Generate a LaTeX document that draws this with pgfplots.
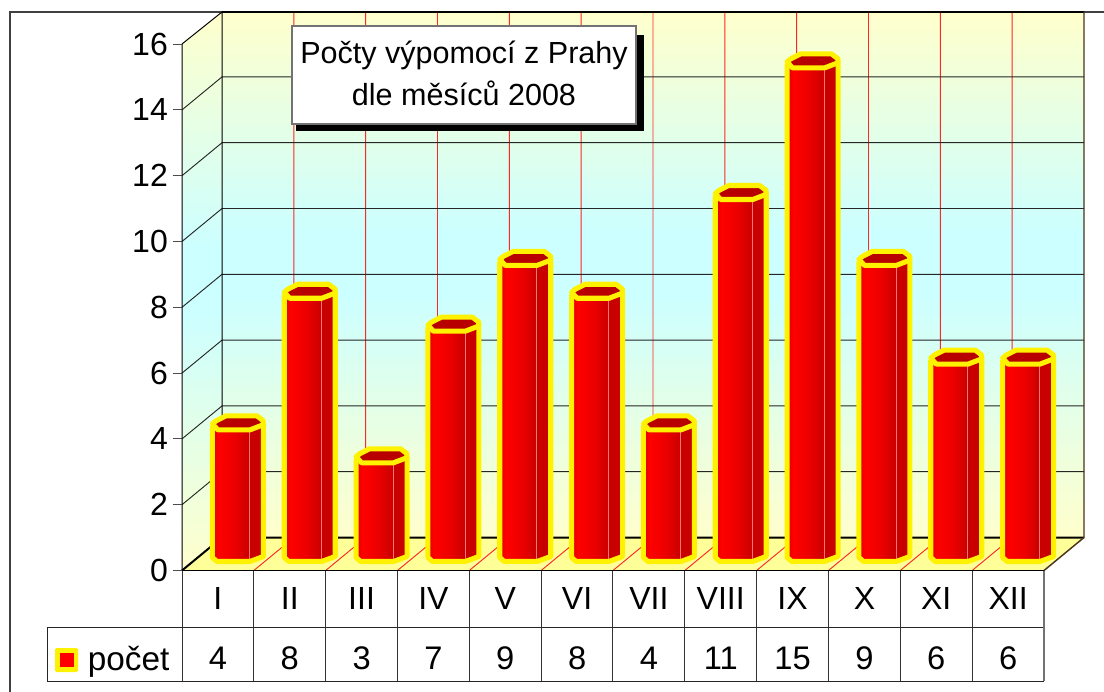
\documentclass[border=0pt]{standalone}
\usepackage{pgfplots}
\pgfplotsset{compat=1.18}
\usepackage{pgfplotstable}
\usepackage{fontspec}
\setmainfont{Liberation Sans}
\definecolor{wallY}{HTML}{FFFFCC}
\definecolor{wallC}{HTML}{CCFFFF}
\definecolor{floorY}{HTML}{FFFF99}
\definecolor{sideR}{HTML}{C80000}
\definecolor{topR}{HTML}{B80000}
\pgfdeclareverticalshading{wall}{100bp}{color(0bp)=(wallY);color(25bp)=(wallY);color(48bp)=(wallC);color(54bp)=(wallC);color(75bp)=(wallY);color(100bp)=(wallY)}
\pgfdeclarehorizontalshading{face}{100bp}{color(0bp)=(red!85!black);color(25bp)=(red!85!black);color(33bp)=(red);color(55bp)=(red!92!black);color(75bp)=(sideR);color(100bp)=(sideR)}
\pgfplotstableread{
x v name
0.5 4 I
1.5 8 II
2.5 3 III
3.5 7 IV
4.5 9 V
5.5 8 VI
6.5 4 VII
7.5 11 VIII
8.5 15 IX
9.5 9 X
10.5 6 XI
11.5 6 XII
}\chartdata
\begin{document}
\begin{tikzpicture}
\useasboundingbox (0,0) rectangle (828pt,-519pt);
\begin{scope}[x=0.75pt,y=-0.75pt]
% outer frame
\draw[black!75,line width=1.1pt] (10,692) -- (10,12) -- (1104,12);
% walls and floor
\shade[shading=wall] (222,12) rectangle (1084,537.5);
\shade[shading=wall] (182,44) -- (222,12) -- (222,537.5) -- (182,570.5) -- cycle;
\fill[floorY] (182,570.5) -- (222,537.5) -- (1084,537.5) -- (1044,570.5) -- cycle;
% grid on the walls
\foreach \k in {1,...,11}{
  \pgfmathsetmacro\xa{222+71.83*\k}
  \pgfmathsetmacro\xb{182+71.83*\k}
  \draw[red!85!white,line width=0.7pt] (\xa,12) -- (\xa,537.5) -- (\xb,570.5);
}
\foreach \v in {2,4,...,14}{
  \pgfmathsetmacro\ya{537.5-32.9*\v}
  \pgfmathsetmacro\yb{570.5-32.9*\v}
  \draw[black!85,line width=0.7pt] (182,\yb) -- (222,\ya) -- (1084,\ya);
}
\draw[black,line width=0.75pt] (182,570.5) -- (182,44) -- (222,12) -- (222,537.5);
\draw[black,line width=1.5pt] (182,570.5) -- (222,537.5) -- (1084,537.5);
\draw[black,line width=1.5pt] (222,12) -- (1084,12);
\draw[black!75,line width=1.1pt] (1084,12) -- (1104,12);
\draw[black!60!brown,line width=1.1pt] (1084,12) -- (1084,537.5) -- (1044,570.5);
% data table
\draw[black,line width=0.75pt] (182,570.5) -- (1044,570.5);
\draw[black!85,line width=0.75pt] (47,627) -- (1044,627);
\draw[black!85,line width=0.75pt] (47,627) -- (47,681) -- (1044,681);
\foreach \k in {0,...,11}{
  \pgfmathsetmacro\xb{182+71.83*\k}
  \draw[black!80,line width=0.75pt] (\xb,570.5) -- (\xb,681);
}
\draw[black!55,line width=1.1pt] (1044,570.5) -- (1044,681);
% legend key
\fill[yellow,rounded corners=1pt] (55,648) rectangle (78,672);
\fill[red] (59.5,652.5) rectangle (73.5,667);
\node[anchor=base west,inner sep=0pt,font=\fontsize{25pt}{28pt}\selectfont] at (87.5,670) {počet};
\end{scope}
\begin{axis}[
  at={(136.5pt,-427.875pt)},anchor=south west,
  scale only axis,width=646.5pt,height=394.875pt,
  xmin=0,xmax=12,ymin=0,ymax=16,
  clip=false,axis line style={draw=none},
  axis y line*=left,axis x line*=bottom,
  xtick={0.5,1.5,...,11.5},
  xticklabels from table={\chartdata}{name},
  x tick style={draw=none},
  ytick={0,2,...,16},
  y tick style={draw=black!70,line width=0.75pt},
  tick align=outside,major tick length=7.1pt,
  /pgf/number format/assume math mode=true,
  tick label style={font=\fontsize{24pt}{28pt}\selectfont},
  xticklabel style={anchor=center,yshift=-14pt},
]
\addplot[
  scatter,only marks,mark=*,mark size=0pt,
  scatter/use mapped color={draw=none,fill=none},
  visualization depends on={\thisrow{v} \as \barv},
  scatter/@pre marker code/.code={%
    \pgfmathsetmacro\H{\barv*32.9}%
    \pgftransformshift{\pgfqpoint{15pt}{12pt}}%
    \begin{scope}[x=0.75pt,y=-0.75pt]
      \shade[shading=face] (-25.5,3) -- (-25.5,\H+3) -- (-21,\H+7) -- (12,\H+7) -- (12,7) -- cycle;
      \fill[sideR] (12,7) -- (12,\H+7) -- (25.5,\H+2) -- (25.5,0) -- cycle;
      \draw[red!55!white,line width=0.4pt] (11.5,9) -- (11.5,\H+5);
      \draw[yellow,line width=3.8pt,line join=round] (-25.5,3) -- (-25.5,\H+3) -- (-21,\H+7) -- (12,\H+7) -- (25.5,\H+2) -- (25.5,0);
      \filldraw[draw=yellow,fill=topR,line width=3.8pt,line join=round]
        (-25.5,1) -- (-22,-2) -- (-12,-7) -- (19,-7) -- (25.5,-2) -- (25,2) -- (12,7) -- (-20,7) -- cycle;
    \end{scope}
  },
  scatter/@post marker code/.code={},
] table[x=x,y=v] {\chartdata};
\addplot[
  only marks,mark=none,
  point meta=explicit symbolic,
  nodes near coords,
  nodes near coords style={anchor=center,inner sep=0pt,font=\fontsize{24.5pt}{28pt}\selectfont},
] table[x=x,y expr=-2.66,meta=v] {\chartdata};
\end{axis}
\begin{scope}[x=0.75pt,y=-0.75pt]
\fill[black] (296,35) rectangle (644,131.5);
\filldraw[fill=white,draw=black!55,line width=0.9pt] (292,26) rectangle (636,124);
\node[font=\fontsize{22.9pt}{28pt}\selectfont] at (464,55) {Počty výpomocí z Prahy};
\node[font=\fontsize{22.9pt}{28pt}\selectfont] at (464,93) {dle měsíců 2008};
\end{scope}
\end{tikzpicture}
\end{document}
